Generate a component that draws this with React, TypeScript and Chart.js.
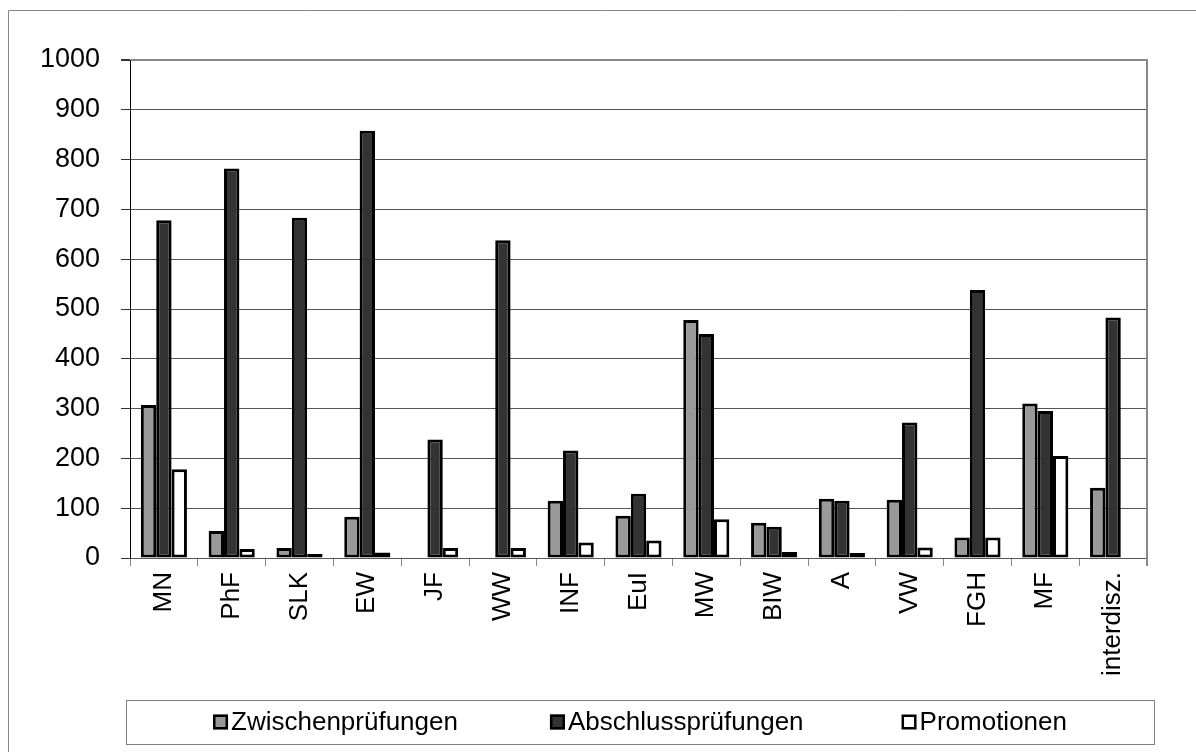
import { useEffect, useRef } from 'react';
import { Chart, registerables } from 'chart.js';

Chart.register(...registerables);

const categories = ['MN', 'PhF', 'SLK', 'EW', 'JF', 'WW', 'INF', 'EuI', 'MW', 'BIW', 'A', 'VW', 'FGH', 'MF', 'interdisz.'];
const zwischen = [307, 54, 20, 83, 0, 1, 115, 85, 478, 71, 119, 117, 41, 310, 141];
const abschluss = [678, 782, 683, 858, 238, 638, 216, 129, 450, 63, 115, 272, 538, 295, 483];
const promotionen = [178, 18, 8, 11, 20, 20, 31, 35, 78, 12, 10, 21, 41, 205, 0];
const yTicks = [0, 100, 200, 300, 400, 500, 600, 700, 800, 900, 1000];
const seriesNames = ['Zwischenprüfungen', 'Abschlussprüfungen', 'Promotionen'];
const seriesColors = ['#999999', '#333333', '#ffffff'];

const FONT = '"Liberation Sans", Arial, sans-serif';

const framePlugin = {
  id: 'frame',
  beforeDraw(chart: any) {
    const ctx = chart.ctx;
    ctx.save();
    ctx.fillStyle = '#ffffff';
    ctx.fillRect(0, 0, chart.width, chart.height);
    ctx.strokeStyle = '#888888';
    ctx.lineWidth = 1;
    ctx.beginPath();
    ctx.moveTo(8.5, chart.height);
    ctx.lineTo(8.5, 10.5);
    ctx.lineTo(chart.width, 10.5);
    ctx.stroke();
    ctx.restore();
  },
  afterDraw(chart: any) {
    const ctx = chart.ctx;
    const { left, right, top, bottom } = chart.chartArea;
    ctx.save();
    // right plot border
    ctx.strokeStyle = '#888888';
    ctx.lineWidth = 2;
    ctx.beginPath();
    ctx.moveTo(right, top - 1);
    ctx.lineTo(right, bottom + 8);
    ctx.stroke();

    // legend box
    const boxL = left - 4;
    const boxR = right + 7;
    const boxT = 700;
    const boxB = 744;
    ctx.lineWidth = 1;
    ctx.strokeStyle = '#808080';
    ctx.strokeRect(Math.round(boxL) + 0.5, boxT + 0.5, Math.round(boxR - boxL), boxB - boxT);

    ctx.font = '26px ' + FONT;
    ctx.textBaseline = 'middle';
    ctx.textAlign = 'left';
    const sq = 15;
    const gapAfterSq = 3;
    const gaps = [92, 98];
    const widths = seriesNames.map((n) => ctx.measureText(n).width);
    let total = 0;
    widths.forEach((w, i) => {
      total += sq + gapAfterSq + w;
      if (i < gaps.length) total += gaps[i];
    });
    let x = (boxL + boxR) / 2 - total / 2;
    const cy = (boxT + boxB) / 2;
    seriesNames.forEach((name, i) => {
      ctx.fillStyle = seriesColors[i];
      ctx.fillRect(x, cy - sq / 2, sq, sq);
      ctx.strokeStyle = '#000000';
      ctx.lineWidth = 2.5;
      ctx.strokeRect(x + 1.25, cy - sq / 2 + 1.25, sq - 2.5, sq - 2.5);
      ctx.fillStyle = '#000000';
      ctx.fillText(name, x + sq + gapAfterSq, cy + 1);
      x += sq + gapAfterSq + widths[i] + (i < gaps.length ? gaps[i] : 0);
    });
    ctx.restore();
  },
};

export default function App() {
  const ref = useRef<HTMLCanvasElement | null>(null);

  useEffect(() => {
    if (!ref.current) return;
    const series = [zwischen, abschluss, promotionen];
    const chart = new Chart(ref.current, {
      type: 'bar',
      data: {
        labels: categories,
        datasets: series.map((data, i) => ({
          label: seriesNames[i],
          data,
          backgroundColor: seriesColors[i],
          borderColor: '#000000',
          borderWidth: 3,
          borderSkipped: false,
          categoryPercentage: 0.68,
          barPercentage: 1.0,
        })),
      },
      options: {
        animation: false,
        responsive: true,
        maintainAspectRatio: false,
        layout: { padding: { top: 60, right: 49, bottom: 0, left: 0 } },
        plugins: {
          legend: { display: false },
          tooltip: { enabled: false },
          title: { display: false },
        },
        scales: {
          x: {
            offset: true,
            grid: {
              display: true,
              drawOnChartArea: false,
              drawTicks: true,
              tickLength: 8,
              color: '#888888',
              offset: true,
            },
            border: { display: true, color: '#555555', width: 1 },
            ticks: {
              autoSkip: false,
              minRotation: 90,
              maxRotation: 90,
              padding: 6,
              color: '#000000',
              font: { family: FONT, size: 26 },
            },
            afterFit(scale: any) {
              scale.height = 194;
            },
          },
          y: {
            min: 0,
            max: 1000,
            afterBuildTicks(scale: any) {
              scale.ticks = yTicks.map((v) => ({ value: v }));
            },
            grid: {
              color: (c: any) => (c.tick && c.tick.value === 1000 ? '#888888' : '#555555'),
              lineWidth: (c: any) => (c.tick && c.tick.value === 1000 ? 2 : 1),
              tickColor: '#333333',
              tickLength: 9,
            },
            border: { display: true, color: '#000000', width: 1 },
            ticks: {
              padding: 21,
              color: '#000000',
              font: { family: FONT, size: 27 },
              callback: (v: any) => String(v),
            },
            afterFit(scale: any) {
              scale.width = 130;
            },
          },
        },
      },
      plugins: [framePlugin],
    });
    return () => chart.destroy();
  }, []);

  return (
    <div style={{ position: 'absolute', left: 0, top: 0, width: 1196, height: 752 }}>
      <canvas ref={ref} />
    </div>
  );
}
